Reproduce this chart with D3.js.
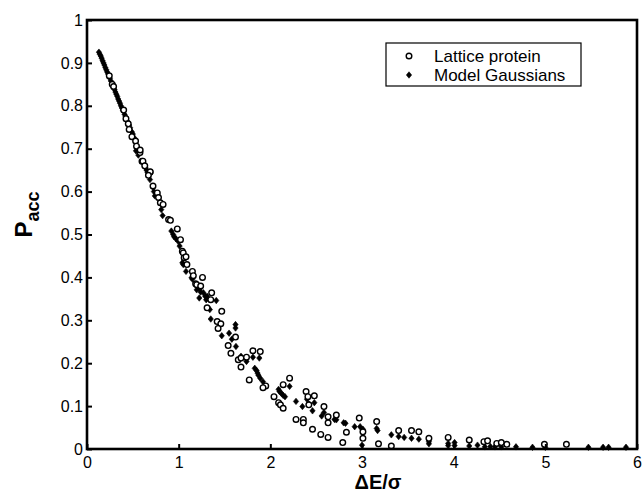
<!DOCTYPE html>
<html>
<head>
<meta charset="utf-8">
<script src="https://cdn.jsdelivr.net/npm/d3@7"></script>
<style>
  html, body { margin: 0; padding: 0; background: #fff; }
  svg { display: block; }
  text { font-family: Arial, "Liberation Sans", Helvetica, sans-serif; fill: #000; }
</style>
</head>
<body>
<svg id="chart" width="644" height="493"></svg>
<script>
// Acceptance probability vs normalised energy gap

// Lattice protein simulation (open circles)
const latticeX = [0.243,0.275,0.29,0.40,0.425,0.45,0.46,0.49,0.53,0.54,0.578,0.58,0.60,0.61,0.63,0.687,0.69,0.67,0.72,0.767,0.78,0.80,0.83,0.89,0.91,0.985,1.02,1.04,1.05,1.06,1.08,1.09,1.15,1.16,1.26,1.185,1.197,1.24,1.36,1.35,1.31,1.47,1.42,1.46,1.43,1.62,1.54,1.57,1.81,1.89,1.65,1.68,1.74,1.68,1.77,1.95,1.92,2.21,2.14,2.04,2.09,2.11,2.14,2.39,2.41,2.48,2.42,2.585,2.63,2.63,2.72,2.28,2.36,2.36,2.97,3.16,2.46,2.55,2.63,2.83,2.79,3.01,3.01,3.18,3.32,3.40,3.54,3.62,3.73,3.94,4.17,4.33,4.37,4.47,4.52,4.58,4.99,5.23];
const latticeP = [0.870,0.850,0.845,0.790,0.770,0.758,0.745,0.728,0.718,0.706,0.691,0.697,0.671,0.671,0.660,0.645,0.646,0.638,0.613,0.597,0.586,0.574,0.570,0.535,0.533,0.513,0.488,0.461,0.457,0.446,0.448,0.430,0.414,0.404,0.400,0.385,0.383,0.380,0.364,0.348,0.329,0.321,0.297,0.292,0.281,0.261,0.241,0.223,0.229,0.227,0.208,0.212,0.214,0.191,0.161,0.147,0.143,0.165,0.150,0.122,0.108,0.103,0.095,0.134,0.122,0.124,0.103,0.099,0.075,0.061,0.079,0.069,0.069,0.061,0.072,0.064,0.046,0.034,0.027,0.039,0.015,0.040,0.025,0.012,0.007,0.043,0.043,0.040,0.025,0.027,0.021,0.017,0.019,0.013,0.015,0.011,0.011,0.011];

// Model Gaussian distributions (filled diamonds)
const gaussX = [0.13,0.14,0.15,0.16,0.17,0.18,0.19,0.20,0.21,0.22,0.23,0.25,0.26,0.28,0.29,0.30,0.31,0.32,0.33,0.34,0.35,0.36,0.37,0.38,0.39,0.41,0.42,0.44,0.46,0.47,0.49,0.50,0.52,0.534,0.56,0.63,0.64,0.65,0.66,0.67,0.687,0.72,0.73,0.74,0.81,0.825,0.92,0.94,0.95,0.97,0.995,1.01,1.04,1.05,1.08,1.14,1.15,1.197,1.23,1.24,1.27,1.29,1.225,1.30,1.31,1.41,1.34,1.35,1.47,1.55,1.62,1.62,1.58,1.625,1.68,1.74,1.81,1.88,1.83,1.85,1.86,1.87,1.89,1.92,2.09,2.10,2.12,2.14,2.16,2.21,2.28,2.35,2.40,2.42,2.48,2.46,2.56,2.585,2.70,2.72,2.80,2.82,2.92,2.98,3.01,3.00,3.17,3.16,3.32,3.40,3.46,3.54,3.62,3.73,3.73,3.94,3.94,4.01,4.01,4.17,4.26,4.34,4.40,4.45,4.52,4.68,4.86,5.00,5.47,5.63,5.69,5.88];
const gaussP = [0.925,0.920,0.916,0.911,0.905,0.900,0.895,0.889,0.884,0.879,0.874,0.864,0.858,0.848,0.843,0.838,0.832,0.827,0.822,0.816,0.811,0.806,0.800,0.795,0.790,0.780,0.775,0.764,0.755,0.749,0.739,0.734,0.724,0.695,0.685,0.660,0.655,0.650,0.645,0.640,0.628,0.610,0.600,0.590,0.558,0.544,0.508,0.500,0.495,0.490,0.484,0.473,0.434,0.430,0.414,0.399,0.396,0.371,0.373,0.366,0.364,0.356,0.352,0.348,0.356,0.346,0.325,0.303,0.264,0.270,0.282,0.290,0.256,0.239,0.216,0.204,0.214,0.212,0.188,0.183,0.177,0.172,0.165,0.157,0.139,0.134,0.130,0.125,0.122,0.146,0.111,0.099,0.116,0.105,0.108,0.089,0.077,0.085,0.069,0.068,0.061,0.060,0.052,0.052,0.046,0.009,0.043,0.048,0.033,0.029,0.027,0.025,0.023,0.017,0.012,0.013,0.008,0.015,0.008,0.007,0.009,0.005,0.006,0.005,0.005,0.005,0.004,0.004,0.004,0.004,0.004,0.004];

const xTicks = [0,1,2,3,4,5,6];
const yTicks = [0,0.1,0.2,0.3,0.4,0.5,0.6,0.7,0.8,0.9,1];
const seriesNames = ["Lattice protein", "Model Gaussians"];

const svg = d3.select("#chart");
const margin = {left: 87, right: 7, top: 20, bottom: 44};
const W = 644, H = 493;
const x = d3.scaleLinear().domain([0, 6]).range([margin.left, W - margin.right]);
const y = d3.scaleLinear().domain([0, 1]).range([H - margin.bottom, margin.top]);

// markers: small filled diamond and open circle
const diamond = d3.symbol().type(d3.symbolDiamond2).size(22);
const circleR = 2.8;

svg.append("g")
  .selectAll("path")
  .data(d3.range(gaussX.length))
  .join("path")
  .attr("d", diamond)
  .attr("transform", i => `translate(${x(gaussX[i])},${y(gaussP[i])}) scale(0.9,1.1)`)
  .attr("fill", "#000")
  .attr("stroke", "#000")
  .attr("stroke-width", 0.6);

svg.append("g")
  .selectAll("circle")
  .data(d3.range(latticeX.length))
  .join("circle")
  .attr("cx", i => x(latticeX[i]))
  .attr("cy", i => y(latticeP[i]))
  .attr("r", circleR)
  .attr("fill", "#fff")
  .attr("stroke", "#000")
  .attr("stroke-width", 1.4);

// axes with inward ticks
const xAxis = svg.append("g")
  .attr("transform", `translate(0,${y(0)})`)
  .call(d3.axisBottom(x).tickValues(xTicks).tickFormat(d3.format("d")).tickSizeInner(-5).tickSizeOuter(0).tickPadding(8));
xAxis.selectAll("text").attr("font-size", 16).attr("dy", "0.71em");

const yAxis = svg.append("g")
  .attr("transform", `translate(${x(0)},0)`)
  .call(d3.axisLeft(y).tickValues(yTicks).tickFormat(d => d === 0 || d === 1 ? d3.format("d")(d) : d3.format(".1f")(d)).tickSizeInner(-5).tickSizeOuter(0).tickPadding(4));
yAxis.selectAll("text").attr("font-size", 16);

[xAxis, yAxis].forEach(g => {
  g.select(".domain").remove();
  g.selectAll(".tick line").attr("stroke", "#000").attr("stroke-width", 2);
});

// frame
svg.append("rect")
  .attr("x", x(0)).attr("y", y(1))
  .attr("width", x(6) - x(0)).attr("height", y(0) - y(1))
  .attr("fill", "none").attr("stroke", "#000").attr("stroke-width", 2.6);

// axis titles
svg.append("text")
  .attr("x", (x(0) + x(6)) / 2 + 16).attr("y", 489)
  .attr("text-anchor", "middle").attr("font-size", 20).attr("font-weight", "bold")
  .text("\u0394E/\u03C3");

const yl = svg.append("text")
  .attr("transform", `translate(32,${(y(0) + y(1)) / 2 - 20}) rotate(-90)`)
  .attr("text-anchor", "middle").attr("font-size", 24).attr("font-weight", "bold");
yl.append("tspan").text("P");
yl.append("tspan").attr("font-size", 18).attr("dy", 7).text("acc");

// legend
const lg = svg.append("g");
lg.append("rect")
  .attr("x", 386).attr("y", 43).attr("width", 195).attr("height", 43)
  .attr("fill", "#fff").attr("stroke", "#000").attr("stroke-width", 1.2);
lg.append("circle").attr("cx", 409).attr("cy", 56).attr("r", circleR)
  .attr("fill", "#fff").attr("stroke", "#000").attr("stroke-width", 1.4);
lg.append("path").attr("d", diamond).attr("transform", "translate(409,75) scale(0.9,1.1)")
  .attr("fill", "#000").attr("stroke", "#000").attr("stroke-width", 0.6);
lg.selectAll("text.lbl")
  .data(seriesNames)
  .join("text")
  .attr("class", "lbl")
  .attr("x", 434).attr("y", (d, i) => 62 + i * 19)
  .attr("font-size", 17)
  .text(d => d);
</script>
</body>
</html>
